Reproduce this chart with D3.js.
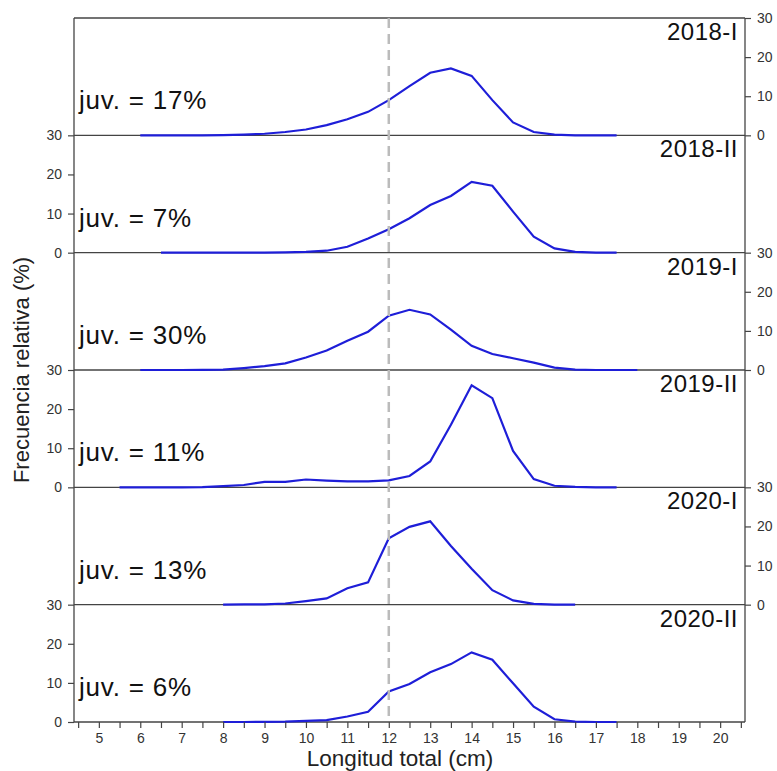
<!DOCTYPE html>
<html>
<head>
<meta charset="utf-8">
<script src="https://cdnjs.cloudflare.com/ajax/libs/d3/7.8.5/d3.min.js"></script>
<style>
  body { margin: 0; background: #fff; }
  text { font-family: "Liberation Sans", Arial, sans-serif; }
</style>
</head>
<body>
<svg width="777" height="771"></svg>
<script>
// tallas (cm) shared by all series
var tallas = [5.5, 6, 6.5, 7, 7.5, 8, 8.5, 9, 9.5, 10, 10.5, 11, 11.5, 12, 12.5,
              13, 13.5, 14, 14.5, 15, 15.5, 16, 16.5, 17, 17.5, 18];

var periodos = ["2018-I", "2018-II", "2019-I", "2019-II", "2020-I", "2020-II"];
var juveniles = [17, 7, 30, 11, 13, 6];

var s2018I  = [null, 0, 0, 0, 0, 0.05, 0.2, 0.4, 0.85, 1.5, 2.6, 4.1, 6.0, 9.0, 12.6, 16.0, 17.1, 15.2, 9.0, 3.3, 0.85, 0.2, 0, 0, 0, null];
var s2018II = [null, null, 0, 0, 0, 0, 0, 0.02, 0.1, 0.2, 0.5, 1.5, 3.6, 6.0, 8.8, 12.2, 14.5, 18.1, 17.1, 10.5, 4.1, 1.1, 0.2, 0, 0, null];
var s2019I  = [null, 0, 0, 0, 0.05, 0.1, 0.5, 1.0, 1.7, 3.2, 5.0, 7.5, 9.8, 13.9, 15.4, 14.2, 10.3, 6.2, 4.1, 3.0, 1.9, 0.6, 0.1, 0, 0, 0];
var s2019II = [0, 0, 0, 0, 0.05, 0.3, 0.6, 1.4, 1.4, 2.0, 1.7, 1.5, 1.5, 1.8, 2.9, 6.6, 16.0, 26.1, 22.8, 9.3, 2.1, 0.4, 0.1, 0, 0, null];
var s2020I  = [null, null, null, null, null, 0, 0.05, 0.1, 0.3, 0.9, 1.6, 4.2, 5.7, 17.0, 19.9, 21.3, 15.0, 9.2, 3.7, 1.1, 0.2, 0, 0, null, null, null];
var s2020II = [null, null, null, null, null, 0, 0, 0.05, 0.1, 0.3, 0.5, 1.4, 2.6, 7.8, 9.7, 12.7, 14.8, 17.8, 15.9, 9.9, 3.9, 0.7, 0.1, 0, 0, null];

var series = [s2018I, s2018II, s2019I, s2019II, s2020I, s2020II];
var yTicks = [0, 10, 20, 30];
var corte = 12; // talla de madurez

var svg = d3.select("svg");
var mLeft = 74, mRight = 745, mTop = 18, mBottom = 722;
var ph = (mBottom - mTop) / periodos.length;
var axisColor = "#444";

var x = d3.scaleLinear().domain([4.4, 20.6]).range([mLeft, mRight]);

var line = d3.line()
    .defined(function(d) { return d.v != null; })
    .x(function(d) { return x(d.t); })
    .y(function(d) { return d.y; });

periodos.forEach(function(p, i) {
  var y0 = mTop + i * ph;
  var y = d3.scaleLinear().domain([0, 30]).range([y0 + ph, y0]);
  var g = svg.append("g");

  // baseline of panel
  g.append("line")
      .attr("x1", mLeft).attr("x2", mRight)
      .attr("y1", y(0)).attr("y2", y(0))
      .attr("stroke", axisColor).attr("stroke-width", 1.3);

  // y axis: right for odd panels, left for even ones
  var onRight = i % 2 == 0;
  var ax = onRight ? d3.axisRight(y) : d3.axisLeft(y);
  ax.tickValues(yTicks).tickSize(6).tickPadding(6);
  var ga = g.append("g")
      .attr("transform", "translate(" + (onRight ? mRight : mLeft) + ",0)")
      .call(ax);
  ga.select(".domain").remove();
  ga.selectAll("line").attr("stroke", axisColor).attr("stroke-width", 1.2);
  ga.selectAll("text").attr("fill", "#333").style("font-size", "14px")
      .style("font-family", "'Liberation Sans', Arial, sans-serif");

  var pts = tallas.map(function(t, k) {
    return { t: t, v: series[i][k], y: y(series[i][k] == null ? 0 : series[i][k]) };
  });
  g.append("path")
      .datum(pts)
      .attr("d", line)
      .attr("fill", "none")
      .attr("stroke", "#1e1ed8")
      .attr("stroke-width", 2.2);

  g.append("text")
      .attr("x", mRight - 7)
      .attr("y", y0 + 22)
      .attr("text-anchor", "end")
      .style("font-size", "24px")
      .style("letter-spacing", "0.5px")
      .attr("fill", "#111")
      .text(p);

  g.append("text")
      .attr("x", mLeft + 5)
      .attr("y", y(0) - 26)
      .style("font-size", "26px")
      .style("letter-spacing", "0.8px")
      .attr("fill", "#111")
      .text("juv. = " + juveniles[i] + "%");
});

// frame: top, left and right lines
svg.append("line").attr("x1", mLeft).attr("x2", mRight).attr("y1", mTop).attr("y2", mTop)
    .attr("stroke", axisColor).attr("stroke-width", 1.3);
svg.append("line").attr("x1", mLeft).attr("x2", mLeft).attr("y1", mTop).attr("y2", mBottom)
    .attr("stroke", axisColor).attr("stroke-width", 1.3);
svg.append("line").attr("x1", mRight).attr("x2", mRight).attr("y1", mTop).attr("y2", mBottom)
    .attr("stroke", axisColor).attr("stroke-width", 1.3);

// dashed line at 12 cm
svg.append("line")
    .attr("x1", x(corte)).attr("x2", x(corte))
    .attr("y1", mTop).attr("y2", mBottom)
    .attr("stroke", "#bbb")
    .attr("stroke-width", 2.5)
    .attr("stroke-dasharray", "10,6");

// x axis
var xTicks = d3.range(4.5, 20.51, 0.5);
var gx = svg.append("g")
    .attr("transform", "translate(0," + mBottom + ")")
    .call(d3.axisBottom(x).tickValues(xTicks).tickSize(6).tickPadding(5)
      .tickFormat(function(d) { return d % 1 == 0 && d >= 5 && d <= 20 ? d : ""; }));
gx.select(".domain").remove();
gx.selectAll("line").attr("stroke", axisColor).attr("stroke-width", 1.2);
gx.selectAll("text").attr("fill", "#333").style("font-size", "14px")
    .style("font-family", "'Liberation Sans', Arial, sans-serif");

svg.append("text")
    .attr("x", 400)
    .attr("y", 766)
    .attr("text-anchor", "middle")
    .style("font-size", "22.5px")
    .attr("fill", "#222")
    .text("Longitud total (cm)");

svg.append("text")
    .attr("transform", "translate(29," + ((mTop + mBottom) / 2) + ") rotate(-90)")
    .attr("text-anchor", "middle")
    .style("font-size", "22px")
    .attr("fill", "#222")
    .text("Frecuencia relativa (%)");
</script>
</body>
</html>
